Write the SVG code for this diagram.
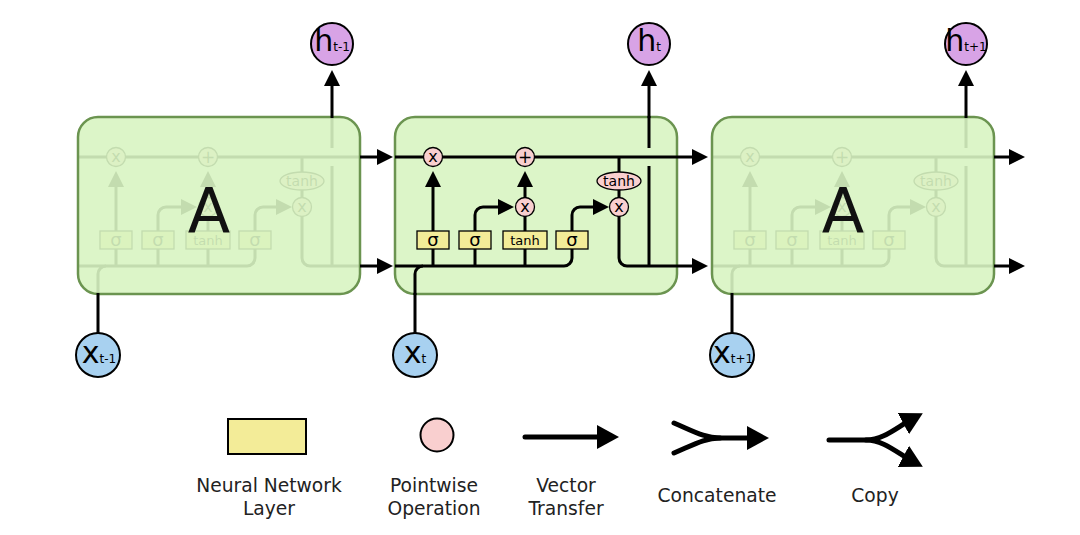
<svg xmlns="http://www.w3.org/2000/svg" xmlns:xlink="http://www.w3.org/1999/xlink" width="1080" height="535" viewBox="0 0 1080 535">
<style>
text{font-family:"DejaVu Sans","Liberation Sans",sans-serif}
.ln{fill:none;stroke:#000;stroke-width:3}
.lg{fill:none;stroke:#000;stroke-width:5;stroke-linecap:round}
.op{fill:#f9cfcf;stroke:#000;stroke-width:1.3}
.nn{fill:#f3ec98;stroke:#000;stroke-width:1.3}
.box{fill:#dcf5c8;stroke:#6b9450;stroke-width:2.5}
.veil{fill:#d8f4c2;fill-opacity:0.9;stroke:#6b9450;stroke-width:2.5}
.hc{fill:#d8a3e6;stroke:#000;stroke-width:2}
.xc{fill:#a8d1f0;stroke:#000;stroke-width:2}
.big{font-size:30px}
.sub{font-size:12px}
.A{font-size:62px;fill:#111}
.lab{font-size:18.7px;fill:#222;text-anchor:middle}
.sig{font-size:18px;text-anchor:middle}
.sm{font-size:13px;text-anchor:middle}
.ox{font-size:16px;text-anchor:middle}
</style>
<defs>
<marker id="ah" viewBox="0 0 16 16" refX="8" refY="8" markerWidth="16" markerHeight="16" markerUnits="userSpaceOnUse" orient="auto"><path d="M0,0 L16,8 L0,16 z"/></marker>
<marker id="al" viewBox="0 0 22 24" refX="12" refY="12" markerWidth="22" markerHeight="24" markerUnits="userSpaceOnUse" orient="auto"><path d="M0,0 L22,12 L0,24 z"/></marker>
<g id="core">
 <path class="ln" d="M0,157 H282"/>
 <path class="ln" d="M0,266 H169 A8,8 0 0 0 177,258 V249"/>
 <path class="ln" d="M20,295 V274 A8,8 0 0 1 28,266"/>
 <path class="ln" d="M38,266 V249 M80,266 V249 M130,266 V249"/>
 <path class="ln" d="M38,231 V179" marker-end="url(#ah)"/>
 <path class="ln" d="M80,231 V215 A8,8 0 0 1 88,207 H111" marker-end="url(#ah)"/>
 <path class="ln" d="M130,231 V216"/>
 <path class="ln" d="M130,198 V179" marker-end="url(#ah)"/>
 <path class="ln" d="M177,231 V215 A8,8 0 0 1 185,207 H206" marker-end="url(#ah)"/>
 <path class="ln" d="M224,157 V172 M224,190 V198"/>
 <path class="ln" d="M224,216 V258 A8,8 0 0 0 232,266 H282"/>
 <path class="ln" d="M254,266 V166 M254,148 V116"/>
 <circle class="op" cx="38" cy="157" r="9.5"/><text class="ox" x="38" y="161.5">x</text>
 <circle class="op" cx="130" cy="157" r="9.5"/><text class="ox" x="130" y="163" style="font-size:17px">+</text>
 <circle class="op" cx="130" cy="207" r="9.5"/><text class="ox" x="130" y="211.5">x</text>
 <circle class="op" cx="224" cy="207" r="9.5"/><text class="ox" x="224" y="211.5">x</text>
 <ellipse class="op" cx="224" cy="181" rx="22" ry="9"/><text class="sm" x="224" y="185.5" style="font-size:14px">tanh</text>
 <rect class="nn" x="22" y="231" width="32" height="18"/><text class="sig" x="38" y="246">σ</text>
 <rect class="nn" x="64" y="231" width="32" height="18"/><text class="sig" x="80" y="246">σ</text>
 <rect class="nn" x="108" y="231" width="44" height="18"/><text class="sm" x="130" y="245">tanh</text>
 <rect class="nn" x="161" y="231" width="32" height="18"/><text class="sig" x="177" y="246">σ</text>
</g>
</defs>

<g id="cell-left">
 <use xlink:href="#core" href="#core" x="78"/>
 <rect class="veil" x="78" y="117" width="282" height="177" rx="20"/>
 <text class="A" x="209" y="233" text-anchor="middle">A</text>
</g>
<g id="cell-mid">
 <rect class="box" x="395" y="117" width="282" height="177" rx="20"/>
 <use xlink:href="#core" href="#core" x="395"/>
</g>
<g id="cell-right">
 <use xlink:href="#core" href="#core" x="712"/>
 <rect class="veil" x="712" y="117" width="282" height="177" rx="20"/>
 <text class="A" x="843" y="233" text-anchor="middle">A</text>
</g>

<g id="connectors">
 <path class="ln" d="M360,157 H385" marker-end="url(#ah)"/>
 <path class="ln" d="M360,266 H385" marker-end="url(#ah)"/>
 <path class="ln" d="M677,157 H700" marker-end="url(#ah)"/>
 <path class="ln" d="M677,266 H700" marker-end="url(#ah)"/>
 <path class="ln" d="M994,157 H1017" marker-end="url(#ah)"/>
 <path class="ln" d="M994,266 H1017" marker-end="url(#ah)"/>
 <path class="ln" d="M98,333 V293 M415,333 V293 M732,333 V293"/>
 <path class="ln" d="M332,118 V78" marker-end="url(#ah)"/>
 <path class="ln" d="M649,118 V78" marker-end="url(#ah)"/>
 <path class="ln" d="M966,118 V78" marker-end="url(#ah)"/>
</g>

<g id="h-prev"><circle class="hc" cx="332" cy="44" r="21"/><text x="332" y="51" text-anchor="middle"><tspan class="big">h</tspan><tspan class="sub">t-1</tspan></text></g>
<g id="h-cur"><circle class="hc" cx="649" cy="44" r="21"/><text x="649" y="51" text-anchor="middle"><tspan class="big">h</tspan><tspan class="sub">t</tspan></text></g>
<g id="h-next"><circle class="hc" cx="966" cy="44" r="21"/><text x="966" y="51" text-anchor="middle"><tspan class="big">h</tspan><tspan class="sub">t+1</tspan></text></g>
<g id="x-prev"><circle class="xc" cx="98" cy="355" r="22"/><text x="99" y="363" text-anchor="middle"><tspan class="big">x</tspan><tspan class="sub">t-1</tspan></text></g>
<g id="x-cur"><circle class="xc" cx="415" cy="355" r="22"/><text x="415" y="363" text-anchor="middle"><tspan class="big">x</tspan><tspan class="sub">t</tspan></text></g>
<g id="x-next"><circle class="xc" cx="732" cy="355" r="22"/><text x="733" y="363" text-anchor="middle"><tspan class="big">x</tspan><tspan class="sub">t+1</tspan></text></g>

<g id="legend-layer">
 <rect class="nn" x="228" y="419" width="78" height="35" style="stroke-width:2"/>
 <text class="lab" x="269" y="492">Neural Network</text>
 <text class="lab" x="269" y="515">Layer</text>
</g>
<g id="legend-pointwise">
 <circle class="op" cx="437" cy="435" r="16.5" style="stroke-width:2"/>
 <text class="lab" x="434" y="492">Pointwise</text>
 <text class="lab" x="434" y="515">Operation</text>
</g>
<g id="legend-vector">
 <path class="lg" d="M525,437 H609" marker-end="url(#al)"/>
 <text class="lab" x="566" y="492">Vector</text>
 <text class="lab" x="566" y="515">Transfer</text>
</g>
<g id="legend-concat">
 <path class="lg" d="M674,423 C695,432 705,438 720,438 H759" marker-end="url(#al)"/>
 <path class="lg" d="M674,453 C695,444 705,438 720,438"/>
 <text class="lab" x="717" y="502">Concatenate</text>
</g>
<g id="legend-copy">
 <path class="lg" d="M829,440 H866 C884,440 897,427 914,418" marker-end="url(#al)"/>
 <path class="lg" d="M866,440 C884,440 897,453 914,462" marker-end="url(#al)"/>
 <text class="lab" x="875" y="502">Copy</text>
</g>
</svg>
